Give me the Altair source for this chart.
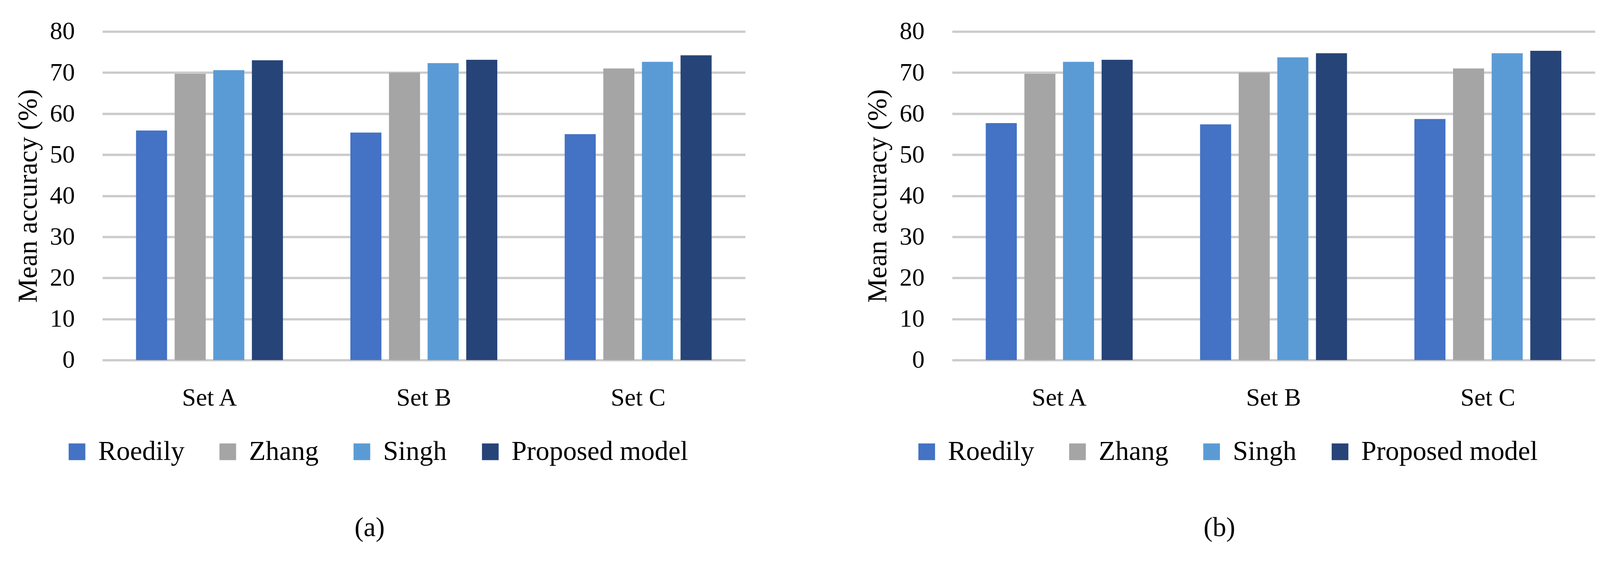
import altair as alt
import pandas as pd

sets = ["Set A", "Set B", "Set C"]
models = ["Roedily", "Zhang", "Singh", "Proposed model"]
colors = ["#4472C4", "#A5A5A5", "#5B9BD5", "#264478"]

# panel (a)
a_roedily = [55.9, 55.4, 55.0]
a_zhang = [69.7, 70.0, 71.0]
a_singh = [70.6, 72.3, 72.6]
a_proposed = [73.0, 73.1, 74.2]

# panel (b)
b_roedily = [57.7, 57.4, 58.7]
b_zhang = [69.7, 70.0, 71.0]
b_singh = [72.6, 73.7, 74.7]
b_proposed = [73.1, 74.7, 75.3]

y_ticks = [0, 10, 20, 30, 40, 50, 60, 70, 80]

FONT = "Liberation Serif"


def make_df(series):
    rows = []
    for m, vals in zip(models, series):
        for s, v in zip(sets, vals):
            rows.append({"set": s, "model": m, "acc": v})
    return pd.DataFrame(rows)


def panel(df, caption):
    return (
        alt.Chart(df)
        .mark_bar()
        .encode(
            x=alt.X(
                "set:N",
                sort=sets,
                scale=alt.Scale(paddingInner=0.3145, paddingOuter=0.157),
                axis=alt.Axis(
                    title=None,
                    labelAngle=0,
                    ticks=False,
                    tickSize=0,
                    domain=False,
                    labelPadding=68,
                    labelFontSize=66,
                    labelFont=FONT,
                    labelColor="#000000",
                ),
            ),
            xOffset=alt.XOffset(
                "model:N",
                sort=models,
                scale=alt.Scale(paddingInner=0.196, paddingOuter=0),
            ),
            y=alt.Y(
                "acc:Q",
                scale=alt.Scale(domain=[0, 80], nice=False),
                axis=alt.Axis(
                    values=y_ticks,
                    title="Mean accuracy (%)",
                    titleFont=FONT,
                    titleFontSize=72,
                    titleFontWeight="normal",
                    titleColor="#000000",
                    titlePadding=20,
                    labelFont=FONT,
                    labelFontSize=66,
                    labelColor="#000000",
                    labelPadding=73,
                    ticks=False,
                    tickSize=0,
                    domain=False,
                    grid=True,
                    gridColor="#cbcbcb",
                    gridWidth=6,
                ),
            ),
            color=alt.Color(
                "model:N",
                sort=models,
                scale=alt.Scale(domain=models, range=colors),
                legend=alt.Legend(
                    title=None,
                    orient="none",
                    direction="horizontal",
                    columns=4,
                    legendX=-103,
                    legendY=1073,
                    symbolType="square",
                    symbolSize=1936,
                    symbolStrokeWidth=0,
                    symbolOpacity=1,
                    labelFont=FONT,
                    labelFontSize=72,
                    labelColor="#000000",
                    labelOffset=20,
                    labelLimit=1000,
                    columnPadding=78,
                ),
            ),
        )
        .properties(
            width=1697,
            height=867,
            title=alt.TitleParams(
                caption,
                orient="bottom",
                anchor="middle",
                frame="group",
                dx=-143,
                offset=130,
                font=FONT,
                fontSize=72,
                fontWeight="normal",
                color="#000000",
            ),
        )
    )


df_a = make_df([a_roedily, a_zhang, a_singh, a_proposed])
df_b = make_df([b_roedily, b_zhang, b_singh, b_proposed])

chart = (
    alt.hconcat(panel(df_a, "(a)"), panel(df_b, "(b)"), spacing=314)
    .resolve_scale(color="independent")
    .configure_view(stroke=None)
    .properties(padding={"left": 30, "top": 20, "right": 5, "bottom": 5}, background="white")
)

chart.save("out.html", embed_options={"renderer": "svg", "actions": False})
